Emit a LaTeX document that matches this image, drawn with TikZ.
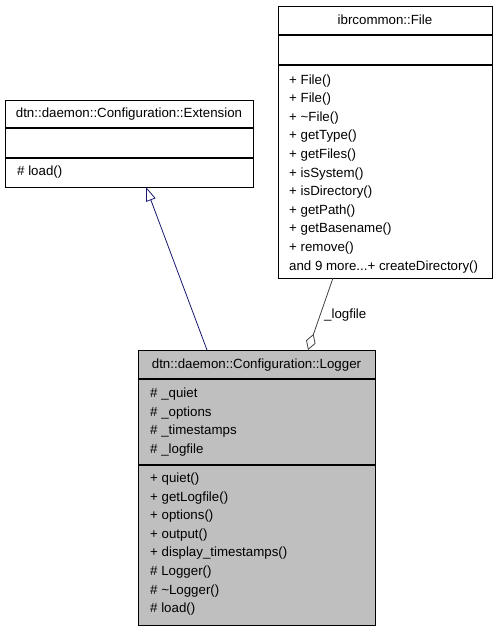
\documentclass[tikz,border=0pt]{standalone}
\usepackage{fontspec}
\setmainfont{Liberation Sans}
\usetikzlibrary{arrows.meta}

\definecolor{loggerfill}{HTML}{BFBFBF}
\definecolor{inheritblue}{HTML}{191970}
\definecolor{aggrgray}{HTML}{404040}

\tikzset{
  classbox/.style={draw=black, line width=1.1pt, fill=white, anchor=north west, inner sep=0pt},
  classtitle/.style={anchor=base, inner sep=0pt, font=\fontsize{13.3}{16}\selectfont},
  member/.style={anchor=base west, inner sep=0pt, font=\fontsize{13.3}{16}\selectfont},
  divider/.style={line width=1.4pt},
  inherit/.style={draw=inheritblue, line width=0.8pt, -{Triangle[open, length=14pt, width=10pt]}},
  aggr/.style={draw=aggrgray, line width=0.8pt, -{Diamond[open, length=17pt, width=10pt]}},
}

\begin{document}
\begin{tikzpicture}[x=1pt, y=-1pt]
		\useasboundingbox (0,0) rectangle (496,632);
		
		% base class
		\node[classbox, minimum width=248pt, minimum height=87pt] (ext) at (5,100) {};
		\draw[divider] (5,128) -- (253,128);
		\draw[divider] (5,158) -- (253,158);
		\node[classtitle] (exttitle) at (129,117.5) {dtn::daemon::Configuration::Extension};
		\node[member] (extload) at (17,175.5) {\# load()};
		
		% file class
		\node[classbox, minimum width=214pt, minimum height=272pt] (file) at (278,6) {};
		\draw[divider] (278,35) -- (492,35);
		\draw[divider] (278,65) -- (492,65);
		\node[classtitle] (filetitle) at (385,24.5) {ibrcommon::File};
		\foreach \m [count=\i from 0] in {+ File(), + File(), + \textasciitilde File(), + getType(),
			+ getFiles(), + isSystem(), + isDirectory(), + getPath(), + getBasename(),
			+ remove()}
			\node[member] (filem\i) at (289,84+18.6*\i) {\m};
		\node[member] (filemore) at (289,270) {and 9 more...+ createDirectory()};
		
		% logger class
		\node[classbox, fill=loggerfill, minimum width=237pt, minimum height=275pt] (logger) at (138,350) {};
		\draw[divider] (138,379) -- (375,379);
		\draw[divider] (138,465) -- (375,465);
		\node[classtitle] (loggertitle) at (256.5,368.5) {dtn::daemon::Configuration::Logger};
		\foreach \m [count=\i from 0] in {\# \_quiet, \# \_options, \# \_timestamps, \# \_logfile}
			\node[member] (loggera\i) at (150,397.5+18.6*\i) {\m};
		\foreach \m [count=\i from 0] in {+ quiet(), + getLogfile(), + options(), + output(),
			+ display\_timestamps(), \# Logger(), \# \textasciitilde Logger(), \# load()}
			\node[member] (loggerm\i) at (150,482.5+18.6*\i) {\m};
		
		% connectors
		\coordinate (loggerinh) at (207,350);
		\coordinate (extinh) at (146,187);
		\draw[inherit] (loggerinh) -- (extinh);
		
		\coordinate (fileagg) at (333,278);
		\coordinate (loggeragg) at (308,350);
		\draw[aggr] (fileagg) -- (loggeragg);
		\node[member] (agglabel) at (324,318.5) {\_logfile};
		
	\end{tikzpicture}
\end{document}
